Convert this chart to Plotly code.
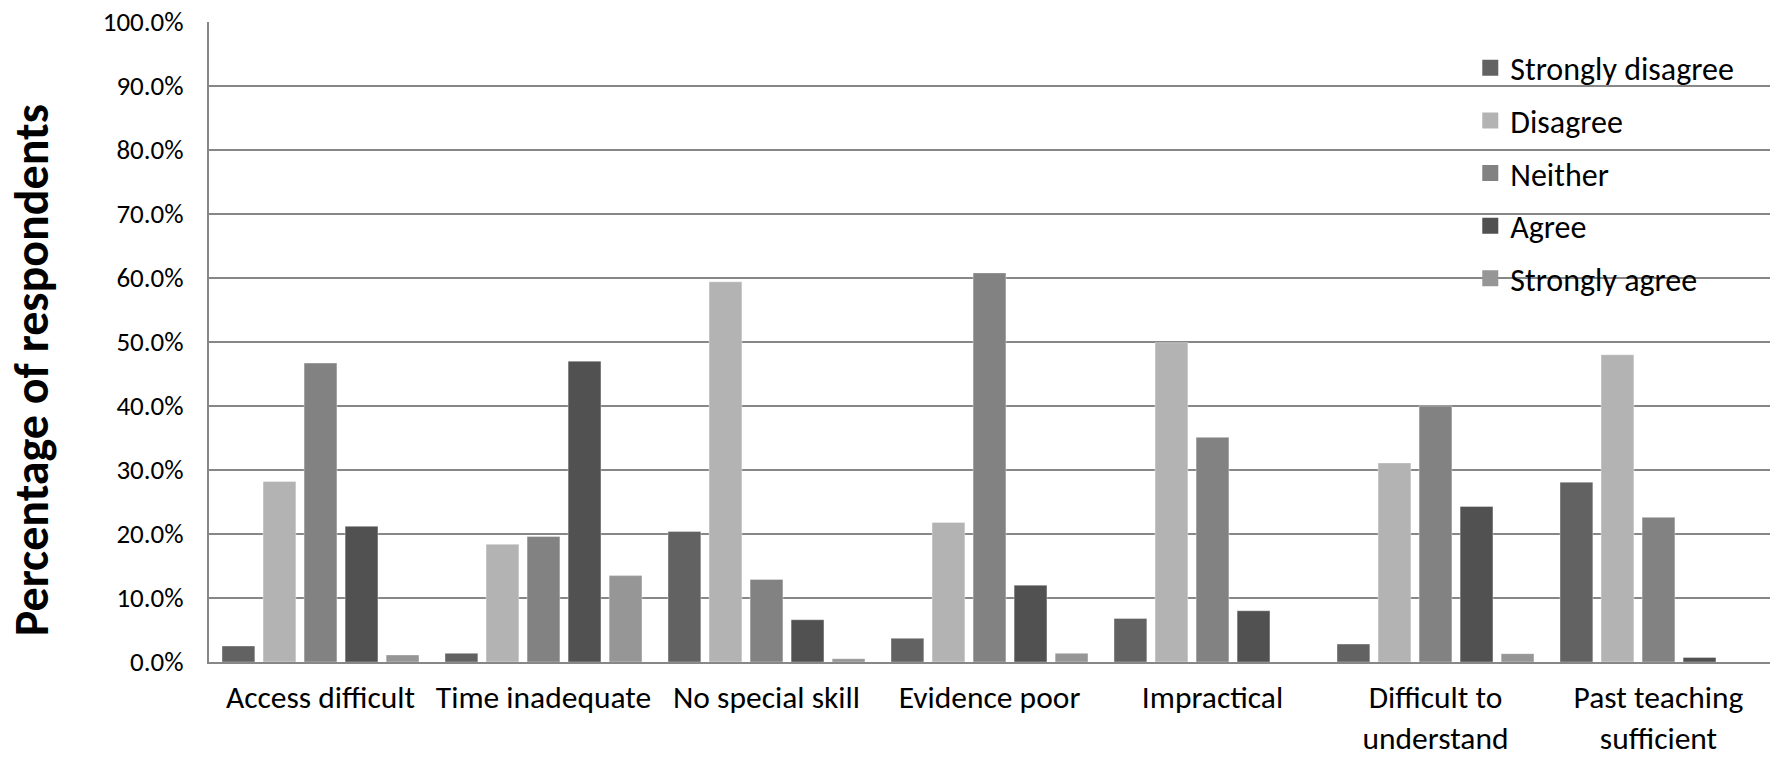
import plotly.graph_objects as go

categories = ["Access difficult", "Time inadequate", "No special skill", "Evidence poor",
              "Impractical", "Difficult to<br>understand", "Past teaching<br>sufficient"]
series_names = ["Strongly disagree", "Disagree", "Neither", "Agree", "Strongly agree"]
strongly_disagree = [2.5, 1.35, 20.4, 3.7, 6.8, 2.8, 28.1]
disagree = [28.2, 18.4, 59.4, 21.8, 49.9, 31.1, 48.0]
neither = [46.7, 19.6, 12.9, 60.8, 35.1, 40.0, 22.6]
agree = [21.2, 47.0, 6.6, 12.0, 8.0, 24.3, 0.7]
strongly_agree = [1.1, 13.5, 0.5, 1.35, 0.0, 1.3, 0.0]
colors = ["#626262", "#b3b3b3", "#828282", "#515151", "#969696"]
y_title = "Percentage of respondents"

series = [strongly_disagree, disagree, neither, agree, strongly_agree]
FONT = "Carlito, Lato, sans-serif"

fig = go.Figure()
for name, vals, col in zip(series_names, series, colors):
    fig.add_trace(go.Bar(
        x=categories, y=[v / 100 for v in vals], name=name, showlegend=False,
        marker=dict(color=col, line=dict(color="rgba(255,255,255,0.35)", width=1)),
    ))
for name, col in zip(series_names, colors):
    fig.add_trace(go.Scatter(
        x=[None], y=[None], mode="markers", name=name, legendgroup=name,
        marker=dict(symbol="square", size=18, color=col),
    ))

fig.update_layout(
    width=1773, height=758,
    margin=dict(l=209, r=3, t=22, b=96, autoexpand=False),
    paper_bgcolor="white", plot_bgcolor="white",
    barmode="group", bargap=0.08, bargroupgap=0.2,
    font=dict(family=FONT, color="#000000"),
    legend=dict(x=0.808, xanchor="left", y=0.971, yanchor="top",
                bgcolor="rgba(0,0,0,0)", font=dict(size=32, family=FONT),
                traceorder="grouped", tracegroupgap=8, itemwidth=30),
    shapes=[dict(type="rect", xref="paper", yref="paper",
                 x0=0.787, x1=1.01, y0=0.53, y1=0.975,
                 fillcolor="white", line=dict(width=0), layer="between")],
    annotations=[dict(text="<b>" + y_title + "</b>", xref="paper", yref="paper",
                      x=-0.114, y=0.456, xanchor="center", yanchor="middle",
                      textangle=-90, showarrow=False,
                      font=dict(size=48, family=FONT, color="#000000"))],
)
fig.update_yaxes(
    range=[0, 1], dtick=0.1, tickformat=".1%", automargin=False,
    showgrid=True, gridcolor="#878787", gridwidth=1.5,
    showline=True, linecolor="#878787", linewidth=2,
    ticks="", ticklabelstandoff=18, ticklabeloverflow="allow",
    tickfont=dict(size=27, family=FONT),
    zeroline=False,
)
fig.update_xaxes(
    automargin=False,
    showline=True, linecolor="#878787", linewidth=2,
    ticks="", ticklabelstandoff=6,
    tickfont=dict(size=31.5, family=FONT),
    showgrid=False,
)

fig.write_html("out.html", config={"displayModeBar": False},
               post_script="document.body.style.margin='0';")
